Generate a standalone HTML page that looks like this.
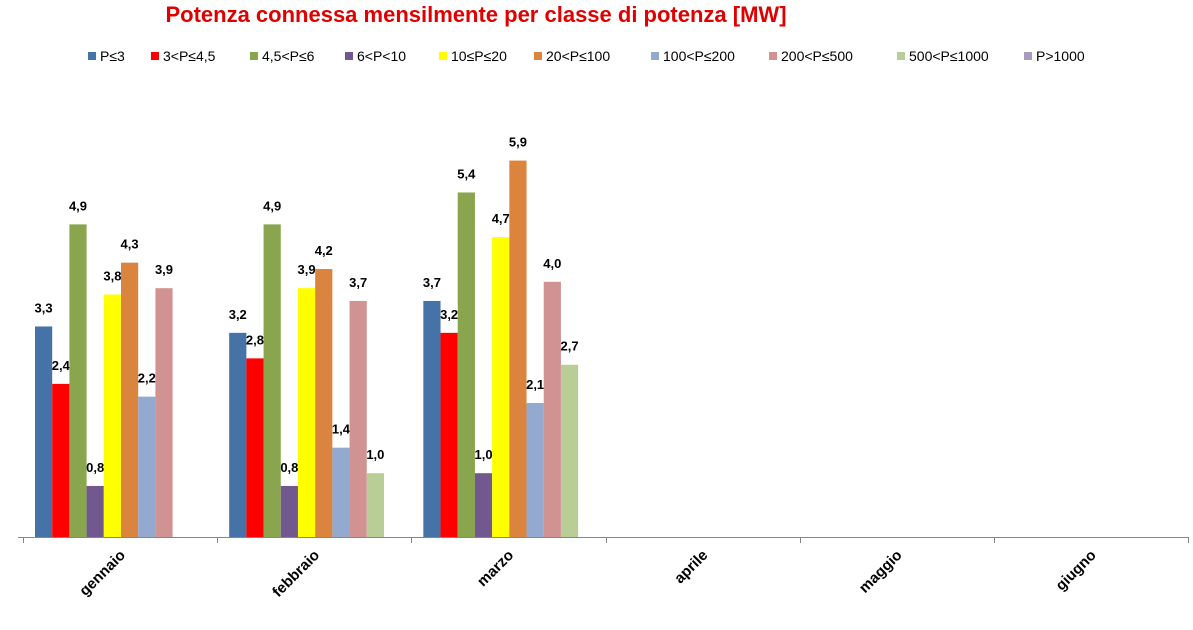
<!DOCTYPE html>
<html><head><meta charset="utf-8"><style>
body{margin:0;background:#fff;font-family:"Liberation Sans",sans-serif}
svg text{font-family:"Liberation Sans",sans-serif}
</style></head><body>
<svg id="c" width="1193" height="625">
<text x="476" y="22" text-anchor="middle" font-size="22" font-weight="bold" fill="#E00000">Potenza connessa mensilmente per classe di potenza [MW]</text>
<g id="legend"></g>
<g id="plot"></g>
</svg>
<script>
const categories=["gennaio","febbraio","marzo","aprile","maggio","giugno"];
const seriesNames=["P≤3","3<P≤4,5","4,5<P≤6","6<P<10","10≤P≤20","20<P≤100","100<P≤200","200<P≤500","500<P≤1000","P>1000"];
const colors=["#4572A7","#FF0000","#89A54E","#71588F","#FFFF00","#DB843D","#93A9CF","#D19392","#B9CD96","#A99BBD"];
const s0=[3.3,3.2,3.7,0,0,0];
const s1=[2.4,2.8,3.2,0,0,0];
const s2=[4.9,4.9,5.4,0,0,0];
const s3=[0.8,0.8,1.0,0,0,0];
const s4=[3.8,3.9,4.7,0,0,0];
const s5=[4.3,4.2,5.9,0,0,0];
const s6=[2.2,1.4,2.1,0,0,0];
const s7=[3.9,3.7,4.0,0,0,0];
const s8=[0,1.0,2.7,0,0,0];
const s9=[0,0,0,0,0,0];
const series=[s0,s1,s2,s3,s4,s5,s6,s7,s8,s9];
const legendX=[88,151,250,345,439,534,651,769,897,1024];
const NS="http://www.w3.org/2000/svg";
const x0=23,x1=1188,base=537,pxPerUnit=63.8;
const catW=(x1-x0)/categories.length,slot=17.2;
const xScale=(ci,si)=>x0+ci*catW+12+si*slot;
const yScale=v=>base-v*pxPerUnit;
function mk(t,a,p){const e=document.createElementNS(NS,t);for(const k in a)e.setAttribute(k,a[k]);p.appendChild(e);return e;}
const lg=document.getElementById('legend'),pl=document.getElementById('plot');
seriesNames.forEach((n,i)=>{
 const r=mk('rect',{x:legendX[i],y:52,width:8,height:8,fill:colors[i]},lg);
 
 
 const t=mk('text',{x:legendX[i]+12,y:61,'font-size':14,fill:'#000'},lg);
 t.textContent=n;
 
 
});
const ax=mk('line',{x1:x0-5,y1:base+0.5,x2:x1,y2:base+0.5,stroke:'#868686','stroke-width':1},pl);


for(let i=0;i<=categories.length;i++){
 const tx=Math.round(x0+i*catW)+0.5;
 const tk=mk('line',{x1:tx,y1:base,x2:tx,y2:base+6,stroke:'#868686'},pl);
 
 
}
categories.forEach((c,ci)=>{
 series.forEach((s,si)=>{
  const v=s[ci];if(!v)return;
  const x=xScale(ci,si),y=yScale(v);
  const b=mk('rect',{x:x,y:y,width:slot,height:base-y,fill:colors[si]},pl);
  
  
  const l=mk('text',{x:x+slot/2,y:y-14,'text-anchor':'middle','font-size':13,'font-weight':'bold'},pl);
  l.textContent=v.toFixed(1).replace('.',',');
  
  
 });
 const cx=x0+(ci+0.5)*catW+6;
 const t=mk('text',{x:cx,y:556,'text-anchor':'end','font-size':15,'font-weight':'bold',transform:`rotate(-45 ${cx} 556)`},pl);
 t.textContent=c;
 
 
});
</script>
</body></html>
